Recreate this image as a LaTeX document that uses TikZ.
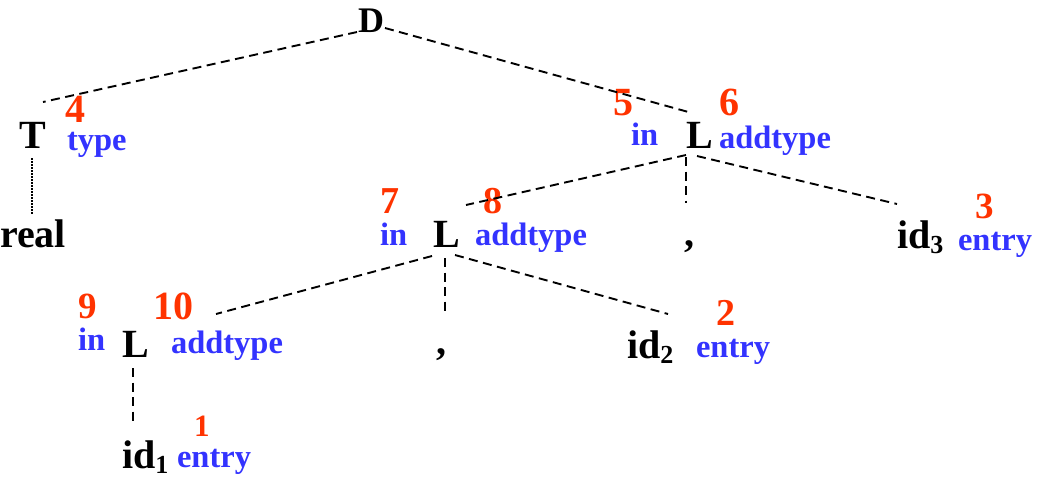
\documentclass[tikz,border=0pt]{standalone}
\usepackage{fontspec}
\setmainfont{Liberation Serif}
\definecolor{numred}{RGB}{255,51,0}
\definecolor{attblue}{RGB}{51,51,255}
\newcommand{\mysub}[1]{\raisebox{-5pt}{\fontsize{26}{26}\selectfont #1}}
\begin{document}
\begin{tikzpicture}[x=1pt,y=-1pt,
  every node/.style={inner sep=0pt,outer sep=0pt,anchor=base west},
  sym/.style={font=\bfseries\fontsize{40}{42}\selectfont,text=black},
  att/.style={font=\bfseries\fontsize{32.5}{34}\selectfont,text=attblue},
  num/.style={font=\bfseries\fontsize{#1}{#1}\selectfont,text=numred},
  edge/.style={line width=1.9pt,dash pattern=on 9pt off 5.5pt},
  dotedge/.style={line width=1.5pt,dash pattern=on 1.5pt off 1.5pt}]
\useasboundingbox (0,0) rectangle (1037,480);
% symbols
\node[sym,font=\bfseries\fontsize{36}{40}\selectfont,anchor=base] (D) at (371,32) {D};
\node[sym,anchor=base] (T) at (33,148) {T};
\node[sym] (real) at (0,247) {real};
\node[sym] (L6) at (686,148) {L};
\node[sym] (L8) at (433,247) {L};
\node[sym] (c6) at (684,246) {,};
\node[sym] (id3) at (897,248) {id\mysub{3}};
\node[sym] (L10) at (122,357) {L};
\node[sym] (c8) at (436,354) {,};
\node[sym] (id2) at (627,358) {id\mysub{2}};
\node[sym] (id1) at (122,468) {id\mysub{1}};
% red numbers
\node[num=40] (n4) at (65,122) {4};
\node[num=40] (n5) at (613,115) {5};
\node[num=40] (n6) at (719,115) {6};
\node[num=38] (n7) at (380,213) {7};
\node[num=38] (n8) at (483,213) {8};
\node[num=37] (n3) at (975,218) {3};
\node[num=37] (n9) at (78,318) {9};
\node[num=40] (n10) at (153,319) {10};
\node[num=38] (n2) at (716,325) {2};
\node[num=31] (n1) at (194,436) {1};
% blue attributes
\node[att] (aT) at (67,150) {type};
\node[att] (in6) at (631,145) {in};
\node[att] (ad6) at (719,148) {addtype};
\node[att] (in8) at (380,245) {in};
\node[att] (ad8) at (475,245) {addtype};
\node[att] (en3) at (958,250) {entry};
\node[att] (in10) at (78,350) {in};
\node[att] (ad10) at (171,353) {addtype};
\node[att] (en2) at (696,357) {entry};
\node[att] (en1) at (177,467) {entry};
% connector end points
\coordinate (Dl) at (357,32);
\coordinate (Dr) at (385,28);
\coordinate (Tt) at (43,102);
\coordinate (Tb) at (32,158);
\coordinate (realt) at (32,215);
\coordinate (L6t) at (692,113);
\coordinate (L6l) at (686,155);
\coordinate (L6b) at (686,157);
\coordinate (L6r) at (697,156);
\coordinate (L8t) at (466,205);
\coordinate (c6t) at (686,203);
\coordinate (id3t) at (897,204);
\coordinate (L8l) at (432,256);
\coordinate (L8b) at (445,258);
\coordinate (L8r) at (455,255);
\coordinate (L10t) at (216,314);
\coordinate (c8t) at (445,313);
\coordinate (id2t) at (668,314);
\coordinate (L10b) at (133,368);
\coordinate (id1t) at (133,425);
% connectors
\draw[edge] (Dl) -- (Tt);
\draw[edge] (Dr) -- (L6t);
\draw[dotedge] (Tb) -- (realt);
\draw[edge] (L6l) -- (L8t);
\draw[edge] (L6b) -- (c6t);
\draw[edge] (L6r) -- (id3t);
\draw[edge] (L8l) -- (L10t);
\draw[edge] (L8b) -- (c8t);
\draw[edge] (L8r) -- (id2t);
\draw[edge] (L10b) -- (id1t);
\end{tikzpicture}
\end{document}
